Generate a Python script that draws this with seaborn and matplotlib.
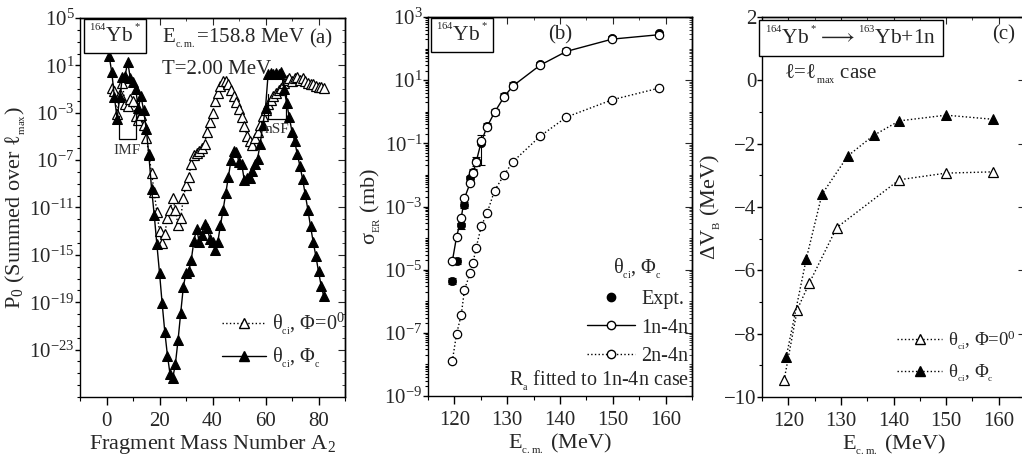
import numpy as np
import matplotlib
matplotlib.use('Agg')
import matplotlib.pyplot as plt
import matplotlib.ticker as mticker
from matplotlib.lines import Line2D
import seaborn as sns

sns.set_style('ticks')
plt.rcParams['font.family'] = ['Liberation Serif', 'DejaVu Serif']
plt.rcParams['mathtext.fontset'] = 'custom'
plt.rcParams['mathtext.rm'] = 'Liberation Serif'
plt.rcParams['mathtext.it'] = 'Liberation Serif:italic'
plt.rcParams['mathtext.bf'] = 'Liberation Serif:bold'
plt.rcParams['axes.unicode_minus'] = True
plt.rcParams['axes.linewidth'] = 1.0
plt.rcParams['axes.edgecolor'] = 'black'

# ---------------- Panel (a) data: log10 P0 vs fragment mass A2 ----------------
a_mass_phi0 = list(range(2, 83))
a_logp_phi0 = [-0.9, -1.2, -3.1, -1.4, -0.5, -2.3, -2.4, -1.8, -2.0, -3.3,
               -3.6, -3.2, -4.0, -5.1, -6.5, -8.1, -9.7, -11.4, -13.0, -14.0,
               -13.2, -11.9, -11.2, -10.2, -11.2, -12.5, -11.9, -10.2, -9.1, -8.4,
               -7.3, -6.6, -6.4, -6.2, -6.0, -5.6, -4.6, -3.8, -3.0, -2.0,
               -1.3, -0.7, -0.35, -0.3, -0.6, -1.1, -1.6, -2.1, -2.7, -3.4,
               -4.1, -5.0, -5.4, -5.7, -5.1, -4.6, -4.0, -3.3, -2.8, -2.3,
               -1.9, -1.6, -1.3, -1.1, -0.9, -0.5, -0.2, -0.1, -0.3, -0.1,
               0.0, -0.2, -0.1, -0.3, -0.5, -0.6, -0.6, -0.7, -0.8, -0.85,
               -0.9]
a_mass_phic = list(range(1, 83))
a_logp_phic = [1.8, 0.4, -1.7, -3.5, -1.7, 0.0, 0.1, 1.3, -0.1, -0.4,
               -1.0, -2.6, -1.6, -2.8, -4.4, -6.6, -9.4, -11.6, -14.1, -16.5,
               -19.1, -21.5, -23.5, -25.1, -25.4, -24.2, -22.2, -19.9, -17.7, -16.5,
               -16.4, -15.4, -13.8, -12.8, -13.9, -13.3, -12.4, -12.7, -13.7, -13.9,
               -14.6, -13.9, -12.5, -11.2, -9.8, -8.4, -7.0, -6.2, -6.3, -7.2,
               -7.3, -8.7, -8.5, -8.5, -7.9, -7.3, -6.9, -5.6, -4.0, -2.6,
               0.3, 0.35, 0.3, 0.35, 0.3, 0.4, -1.0, -2.2, -3.4, -4.6,
               -5.4, -6.5, -7.5, -8.6, -9.9, -11.2, -12.6, -13.9, -15.1, -16.4,
               -17.6, -18.5]

# ---------------- Panel (b) data: sigma_ER (mb) vs E_cm ----------------
b_energy = [119.6, 120.4, 121.3, 121.9, 123.0, 123.5, 124.1, 125.1, 126.2,
            127.6, 129.4, 131.1, 136.2, 141.2, 149.9, 158.8]
b_log_1n4n = [-4.74, -3.97, -3.35, -2.74, -2.25, -1.95, -1.6, -0.94, -0.47,
              -0.02, 0.47, 0.82, 1.47, 1.91, 2.30, 2.44]
b_log_2n4n = [-7.9, -7.04, -6.43, -5.64, -5.1, -4.8, -4.32, -3.62, -3.2,
              -2.5, -2.0, -1.58, -0.78, -0.17, 0.38, 0.75]
b_log_expt = [-5.35, -4.71, -3.6, -2.95, -2.1, -1.9, -1.55, -1.0, -0.45,
              0.0, 0.5, 0.85, 1.5, 1.93, 2.35, 2.48]
b_expt_relerr = [0.2, 0.2, 0.2, 0.2, 0.2, 0.2, 0.3, 0.8, 0.2,
                 0.2, 0.2, 0.2, 0.2, 0.2, 0.15, 0.15]

# ---------------- Panel (c) data: Delta V_B (MeV) vs E_cm ----------------
c_energy_phi0 = [119.2, 121.7, 124.0, 129.2, 141.1, 150.0, 158.9]
c_dvb_phi0 = [-9.47, -7.24, -6.4, -4.65, -3.14, -2.93, -2.89]
c_energy_phic = [119.6, 123.4, 126.4, 131.3, 136.2, 141.1, 150.0, 158.9]
c_dvb_phic = [-8.74, -5.65, -3.6, -2.39, -1.74, -1.28, -1.10, -1.23]

W, H = 1022, 462
fig = plt.figure(figsize=(W / 100, H / 100), dpi=100)


def px_axes(x0, x1, ytop, ybot):
    return fig.add_axes([x0 / W, (H - ybot) / H, (x1 - x0) / W, (ybot - ytop) / H])


def sub(s):
    # small, low subscript as in the original figure
    return '$_{{}_{\\rm ' + s + '}}$'


def sup(s):
    # small, high superscript
    return '$^{{}^{\\rm ' + s + '}}$'


TICK = 15
LAB = 16
ECM = 'E' + sub('c.m.')
THETA = 'θ' + sub('ci')
YB = sup('164') + 'Yb' + sup('*')

axa = px_axes(80, 345, 18, 397)
axb = px_axes(428, 692, 17, 396)
axc = px_axes(762, 1025, 17, 397)

for ax in (axa, axb, axc):
    ax.tick_params(which='both', direction='out', labelsize=TICK, color='black',
                   top=False, right=False)
    ax.tick_params(axis='x', which='major', length=6, width=1, pad=5)
    ax.tick_params(axis='x', which='minor', length=3, width=0.8)
    ax.tick_params(axis='y', which='major', length=3.5, width=1, pad=0.5)
    ax.tick_params(axis='y', which='minor', length=2.5, width=0.8)
    for s in ax.spines.values():
        s.set_visible(True)
        s.set_color('black')

BOX = dict(boxstyle='square,pad=0.25', fc='white', ec='black', lw=1.0)

# ---------------- Panel (a) ----------------
axa.set_yscale('log')
p_phi0 = 10.0 ** np.array(a_logp_phi0)
p_phic = 10.0 ** np.array(a_logp_phic)
sns.lineplot(x=a_mass_phi0, y=p_phi0, ax=axa, color='black', linestyle=':', lw=1.0,
             marker='^', markersize=7, markerfacecolor='white', markeredgecolor='black',
             markeredgewidth=0.9, estimator=None, sort=False)
sns.lineplot(x=a_mass_phic, y=p_phic, ax=axa, color='black', linestyle='-', lw=1.0,
             marker='^', markersize=7, markerfacecolor='black', markeredgecolor='black',
             estimator=None, sort=False)
axa.set_xlim(-10, 90)
axa.set_ylim(1e-27, 1e5)
axa.xaxis.set_major_locator(mticker.FixedLocator([0, 20, 40, 60, 80]))
axa.xaxis.set_minor_locator(mticker.FixedLocator([-10, 10, 30, 50, 70, 90]))
a_ymaj = [10.0 ** k for k in range(-23, 6, 4)]
a_ymin = [10.0 ** k for k in range(-27, 6)]
axa.yaxis.set_major_locator(mticker.FixedLocator(a_ymaj))
axa.yaxis.set_minor_locator(mticker.FixedLocator(a_ymin))
axa.yaxis.set_major_formatter(mticker.LogFormatterSciNotation())
axa.yaxis.set_minor_formatter(mticker.NullFormatter())
axa.set_xlabel('Fragment Mass Number A$_2$', fontsize=LAB, labelpad=1)
axa.set_ylabel('P$_0$ (Summed over ℓ' + sub('max') + ')', fontsize=LAB, labelpad=1)

# IMF / nSF brackets (annotations)
axa.plot([4.6, 4.6, 11.25, 11.25], [10 ** -3.3, 10 ** -5.25, 10 ** -5.25, 10 ** -2.6],
         color='black', lw=0.9)
axa.text(7.9, 10 ** -5.6, 'IMF', fontsize=11, ha='center', va='top', color='#333333')
axa.plot([60.9, 60.9, 67.75, 67.75], [10 ** -1.45, 10 ** -3.56, 10 ** -3.56, 10 ** -1.03],
         color='black', lw=0.9)
axa.text(64.3, 10 ** -3.85, 'nSF', fontsize=11, ha='center', va='top', color='#333333')

axa.text(0.035, 0.952, YB, transform=axa.transAxes, fontsize=15.5,
         ha='left', va='center', bbox=BOX)
axa.text(0.31, 0.945, ECM + '=158.8 MeV', transform=axa.transAxes, fontsize=15,
         ha='left', va='center')
axa.text(0.31, 0.865, 'T=2.00 MeV', transform=axa.transAxes, fontsize=15,
         ha='left', va='center')
axa.text(0.91, 0.945, '(a)', transform=axa.transAxes, fontsize=15,
         ha='center', va='center')

hA = [Line2D([], [], color='black', linestyle=':', lw=1.0, marker='^', markersize=7,
             markerfacecolor='white', markeredgecolor='black'),
      Line2D([], [], color='black', linestyle='-', lw=1.0, marker='^', markersize=7,
             markerfacecolor='black', markeredgecolor='black')]
axa.legend(hA, [THETA + ', Φ=0$^0$', THETA + ', Φ' + sub('c')], loc='lower right',
           bbox_to_anchor=(1.0, 0.07), borderaxespad=0, borderpad=0, frameon=False,
           fontsize=14.5, handlelength=2.2, handletextpad=0.3, labelspacing=0.45)

# ---------------- Panel (b) ----------------
axb.set_yscale('log')
s_1n4n = 10.0 ** np.array(b_log_1n4n)
s_2n4n = 10.0 ** np.array(b_log_2n4n)
s_expt = 10.0 ** np.array(b_log_expt)
axb.errorbar(b_energy, s_expt, yerr=s_expt * np.array(b_expt_relerr), fmt='none',
             ecolor='black', elinewidth=0.8, capsize=3, capthick=0.8)
sns.scatterplot(x=b_energy, y=s_expt, ax=axb, color='black', marker='o', s=36,
                edgecolor='black', linewidth=0.5, zorder=3)
sns.lineplot(x=b_energy, y=s_1n4n, ax=axb, color='black', linestyle='-', lw=1.0,
             marker='o', markersize=6, markerfacecolor='white', markeredgecolor='black',
             markeredgewidth=0.9, estimator=None, sort=False, zorder=4)
sns.lineplot(x=b_energy, y=s_2n4n, ax=axb, color='black', linestyle=':', lw=1.0,
             marker='o', markersize=6, markerfacecolor='white', markeredgecolor='black',
             markeredgewidth=0.9, estimator=None, sort=False, zorder=4)
axb.set_xlim(115, 165)
axb.set_ylim(1e-9, 1e3)
axb.xaxis.set_major_locator(mticker.MultipleLocator(10))
axb.xaxis.set_minor_locator(mticker.MultipleLocator(5))
axb.yaxis.set_major_locator(mticker.FixedLocator([10.0 ** k for k in range(-9, 4, 2)]))
axb.yaxis.set_minor_locator(mticker.LogLocator(base=10, subs=np.arange(1, 10), numticks=50))
axb.yaxis.set_major_formatter(mticker.LogFormatterSciNotation())
axb.yaxis.set_minor_formatter(mticker.NullFormatter())
axb.set_xlabel(ECM + ' (MeV)', fontsize=LAB, labelpad=1)
axb.set_ylabel('σ' + sub('ER') + ' (mb)', fontsize=LAB, labelpad=1)
axb.text(0.03, 0.952, YB, transform=axb.transAxes, fontsize=15.5,
         ha='left', va='center', bbox=BOX)
axb.text(0.5, 0.952, '(b)', transform=axb.transAxes, fontsize=15,
         ha='center', va='center')
axb.text(0.99, 0.04, 'R' + sub('a') + ' fitted to 1n-4n case', transform=axb.transAxes,
         fontsize=14.5, ha='right', va='center')
hB = [Line2D([], [], color='black', linestyle='none', marker='o', markersize=6,
             markerfacecolor='black'),
      Line2D([], [], color='black', linestyle='-', lw=1.0, marker='o', markersize=6,
             markerfacecolor='white'),
      Line2D([], [], color='black', linestyle=':', lw=1.0, marker='o', markersize=6,
             markerfacecolor='white')]
axb.legend(hB, ['Expt.', '1n-4n', '2n-4n'], title=THETA + ', Φ' + sub('c'),
           loc='lower right', bbox_to_anchor=(0.985, 0.08), borderaxespad=0, borderpad=0,
           frameon=False, fontsize=14.5, title_fontsize=14.5, handlelength=2.4,
           handletextpad=0.3, labelspacing=0.45)

# ---------------- Panel (c) ----------------
sns.lineplot(x=c_energy_phi0, y=c_dvb_phi0, ax=axc, color='black', linestyle=':', lw=1.0,
             marker='^', markersize=7, markerfacecolor='white', markeredgecolor='black',
             markeredgewidth=0.9, estimator=None, sort=False)
sns.lineplot(x=c_energy_phic, y=c_dvb_phic, ax=axc, color='black', linestyle=':', lw=1.0,
             marker='^', markersize=7, markerfacecolor='black', markeredgecolor='black',
             estimator=None, sort=False)
axc.set_xlim(115, 165)
axc.set_ylim(-10, 2)
axc.xaxis.set_major_locator(mticker.MultipleLocator(10))
axc.xaxis.set_minor_locator(mticker.MultipleLocator(5))
axc.yaxis.set_major_locator(mticker.MultipleLocator(2))
axc.yaxis.set_minor_locator(mticker.MultipleLocator(1))
axc.set_xlabel(ECM + ' (MeV)', fontsize=LAB, labelpad=1)
axc.set_ylabel('ΔV' + sub('B') + ' (MeV)', fontsize=LAB, labelpad=1)
axc.text(0.012, 0.944, sup('164') + 'Yb' + sup('*') + '$\\longrightarrow$' + sup('163') + 'Yb+1n',
         transform=axc.transAxes, fontsize=15.5, ha='left', va='center',
         bbox=dict(boxstyle='square,pad=0.3', fc='white', ec='black', lw=1.0))
axc.text(0.92, 0.952, '(c)', transform=axc.transAxes, fontsize=15,
         ha='center', va='center')
axc.text(0.085, 0.85, 'ℓ=ℓ' + sub('max') + ' case', transform=axc.transAxes, fontsize=15,
         ha='left', va='center')
hC = [Line2D([], [], color='black', linestyle=':', lw=1.0, marker='^', markersize=7,
             markerfacecolor='white', markeredgecolor='black'),
      Line2D([], [], color='black', linestyle=':', lw=1.0, marker='^', markersize=7,
             markerfacecolor='black', markeredgecolor='black')]
axc.legend(hC, [THETA + ', Φ=0$^0$', THETA + ', Φ' + sub('c')], loc='lower left',
           bbox_to_anchor=(0.515, 0.035), borderaxespad=0, borderpad=0, frameon=False,
           fontsize=13.5, handlelength=2.4, handletextpad=0.3, labelspacing=0.55)

# mirrored inward ticks on top/right
for ax in (axa, axb, axc):
    sx = ax.secondary_xaxis('top')
    sx.xaxis.set_major_locator(mticker.FixedLocator(ax.xaxis.get_majorticklocs()))
    sx.xaxis.set_minor_locator(mticker.FixedLocator(ax.xaxis.get_minorticklocs()))
    sx.tick_params(which='both', direction='in', labeltop=False)
    sx.tick_params(which='major', length=5)
    sx.tick_params(which='minor', length=2.5)
    sy = ax.secondary_yaxis('right')
    sy.yaxis.set_major_locator(mticker.FixedLocator(ax.yaxis.get_majorticklocs()))
    sy.yaxis.set_minor_locator(mticker.FixedLocator(ax.yaxis.get_minorticklocs()))
    sy.yaxis.set_minor_formatter(mticker.NullFormatter())
    sy.tick_params(which='both', direction='in', labelright=False)
    sy.tick_params(which='major', length=5)
    sy.tick_params(which='minor', length=2.5)

fig.savefig('out.png', dpi=100)
